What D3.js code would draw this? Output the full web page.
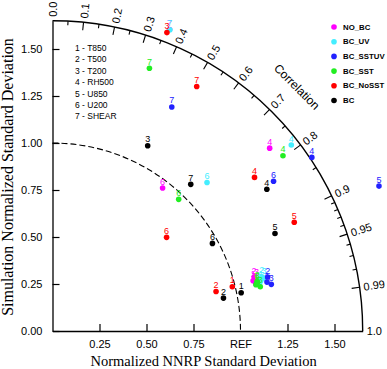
<!DOCTYPE html>
<html>
<head>
<meta charset="utf-8">
<script src="https://cdn.jsdelivr.net/npm/d3@7"></script>
<style>
  body { margin: 0; background: #fff; }
  svg { display: block; }
  .tick text { font-family: "Liberation Sans", Arial, sans-serif; font-size: 11px; fill: #000; }
</style>
</head>
<body>
<div id="chart"></div>
<script>
// variables (left legend) and runs (right legend)
const categories = ["T850", "T500", "T200", "RH500", "U850", "U200", "SHEAR"];
const seriesNames = ["NO_BC", "BC_UV", "BC_SSTUV", "BC_SST", "BC_NoSST", "BC"];
const seriesColors = ["#ff00ff", "#44eeff", "#2222ff", "#22ee22", "#ff0000", "#000000"];

// normalized std dev and correlation, one value per category
const stdNO_BC    = [1.10, 1.11, 1.12, 1.51, 1.11, 0.96, 1.72];
const corNO_BC    = [0.970, 0.966, 0.969, 0.765, 0.974, 0.610, 0.362];
const stdBC_UV    = [1.14, 1.15, 1.16, 1.61, 1.13, 1.14, 1.72];
const corBC_UV    = [0.972, 0.968, 0.970, 0.789, 0.975, 0.721, 0.363];
const stdBC_SSTUV = [1.17, 1.18, 1.19, 1.66, 1.90, 1.42, 1.35];
const corBC_SSTUV = [0.975, 0.970, 0.978, 0.831, 0.914, 0.828, 0.470];
const stdBC_SST   = [1.11, 1.12, 1.13, 1.54, 1.12, 0.97, 1.49];
const corBC_SST   = [0.975, 0.972, 0.978, 0.796, 0.973, 0.692, 0.346];
const stdBC_NoSST = [0.985, 0.895, 1.70, 1.35, 1.41, 0.785, 1.51];
const corBC_NoSST = [0.971, 0.972, 0.358, 0.796, 0.912, 0.773, 0.508];
const stdBC       = [1.024, 0.926, 1.108, 1.367, 1.292, 0.970, 1.072];
const corBC       = [0.980, 0.982, 0.457, 0.834, 0.916, 0.877, 0.686];

// axis ticks
const stdTicks = [0, 0.25, 0.5, 0.75, 1.0, 1.25, 1.5];
const xTicks = [0.25, 0.5, 0.75, 1.0, 1.25, 1.5];
const corrMajor = [0.0, 0.1, 0.2, 0.3, 0.4, 0.5, 0.6, 0.7, 0.8, 0.9, 0.95, 0.99, 1.0];
const corrLabels = ["0.0", "0.1", "0.2", "0.3", "0.4", "0.5", "0.6", "0.7", "0.8", "0.9", "0.95", "0.99", "1.0"];
const corrMinor = [0.05, 0.15, 0.25, 0.35, 0.45, 0.55, 0.65, 0.75, 0.85, 0.91, 0.92, 0.93, 0.94, 0.96, 0.97, 0.98];

const stdMax = 1.65;

const series = [
  { name: seriesNames[0], color: seriesColors[0], std: stdNO_BC, cor: corNO_BC },
  { name: seriesNames[1], color: seriesColors[1], std: stdBC_UV, cor: corBC_UV },
  { name: seriesNames[2], color: seriesColors[2], std: stdBC_SSTUV, cor: corBC_SSTUV },
  { name: seriesNames[3], color: seriesColors[3], std: stdBC_SST, cor: corBC_SST },
  { name: seriesNames[4], color: seriesColors[4], std: stdBC_NoSST, cor: corBC_NoSST },
  { name: seriesNames[5], color: seriesColors[5], std: stdBC, cor: corBC }
];

const width = 387, height = 369;
const ox = 52.5, oy = 331;
const R = stdMax * 188;

const r = d3.scaleLinear().domain([0, stdMax]).range([0, R]);
const x = d3.scaleLinear().domain([0, stdMax]).range([0, R]);
const y = d3.scaleLinear().domain([0, stdMax]).range([0, -R]);

const svg = d3.select("#chart").append("svg")
  .attr("width", width)
  .attr("height", height);

const g = svg.append("g").attr("transform", "translate(" + ox + "," + oy + ")");

const polar = (s, c) => {
  const a = Math.acos(c);
  return [r(s) * Math.cos(a), -r(s) * Math.sin(a)];
};

// x axis
const xAxis = d3.axisBottom(x)
  .tickValues(xTicks)
  .tickSizeInner(-7)
  .tickSizeOuter(0)
  .tickPadding(9)
  .tickFormat(d => d === 1 ? "REF" : d3.format(".2f")(d));

const xg = g.append("g").attr("class", "x axis").call(xAxis);
xg.selectAll(".tick").filter(d => d === 1).select("line").remove();

// y axis
const yAxis = d3.axisLeft(y)
  .tickValues(stdTicks)
  .tickSizeInner(-7)
  .tickSizeOuter(0)
  .tickPadding(10)
  .tickFormat(d3.format(".2f"));

g.append("g").attr("class", "y axis").call(yAxis);

g.selectAll(".domain").attr("stroke", "#000").attr("stroke-width", 1.3);
g.selectAll(".tick line").attr("stroke", "#000").attr("stroke-width", 1.2);

// outer correlation arc
const outer = d3.path();
outer.moveTo(0, -R);
outer.arc(0, 0, R, -Math.PI / 2, 0);
g.append("path").attr("d", outer.toString())
  .attr("fill", "none").attr("stroke", "#000").attr("stroke-width", 1.4);

// reference arc
const refArc = d3.path();
refArc.moveTo(0, -r(1));
refArc.arc(0, 0, r(1), -Math.PI / 2, 0);
g.append("path").attr("d", refArc.toString())
  .attr("fill", "none").attr("stroke", "#000").attr("stroke-width", 1.1)
  .attr("stroke-dasharray", "6,3");

// correlation ticks
const corrTick = (c, len) => {
  const a = Math.acos(c);
  return [[(R - len) * Math.cos(a), -(R - len) * Math.sin(a)], [R * Math.cos(a), -R * Math.sin(a)]];
};

g.selectAll(".cmajor")
  .data(corrMajor.filter(c => c > 0 && c < 1))
  .enter().append("line")
  .attr("class", "cmajor")
  .each(function(c) {
    const p = corrTick(c, 8);
    d3.select(this).attr("x1", p[0][0]).attr("y1", p[0][1]).attr("x2", p[1][0]).attr("y2", p[1][1]);
  })
  .attr("stroke", "#000").attr("stroke-width", 1.1);

g.selectAll(".cminor")
  .data(corrMinor)
  .enter().append("line")
  .attr("class", "cminor")
  .each(function(c) {
    const p = corrTick(c, 4);
    d3.select(this).attr("x1", p[0][0]).attr("y1", p[0][1]).attr("x2", p[1][0]).attr("y2", p[1][1]);
  })
  .attr("stroke", "#000").attr("stroke-width", 1.1);

g.selectAll(".clabel")
  .data(corrMajor)
  .enter().append("text")
  .attr("class", "clabel")
  .attr("transform", c => {
    const a = Math.acos(c);
    const rr = R + 4;
    return "translate(" + (rr * Math.cos(a)) + "," + (-rr * Math.sin(a)) + ") rotate(" + (-a * 180 / Math.PI) + ")";
  })
  .attr("dominant-baseline", "central")
  .attr("font-family", "Liberation Sans, Arial, sans-serif")
  .attr("font-size", 11)
  .text((c, i) => corrLabels[i]);

// "Correlation" title along the arc
const ca = Math.PI / 4, cr = r(1.837);
g.append("text")
  .attr("transform", "translate(" + (cr * Math.cos(ca)) + "," + (-cr * Math.sin(ca)) + ") rotate(45)")
  .attr("text-anchor", "middle")
  .attr("dominant-baseline", "central")
  .attr("font-family", "Liberation Sans, Arial, sans-serif")
  .attr("font-size", 12)
  .text("Correlation");

// data points with their category numbers
series.forEach(s => {
  const pts = s.std.map((v, i) => ({ std: v, cor: s.cor[i], idx: i + 1 }));
  const sg = g.append("g").attr("class", "series");
  sg.selectAll("circle")
    .data(pts)
    .enter().append("circle")
    .attr("cx", d => polar(d.std, d.cor)[0])
    .attr("cy", d => polar(d.std, d.cor)[1])
    .attr("r", 2.8)
    .attr("fill", s.color);
  sg.selectAll("text")
    .data(pts)
    .enter().append("text")
    .attr("x", d => polar(d.std, d.cor)[0])
    .attr("y", d => polar(d.std, d.cor)[1] - 3.5)
    .attr("text-anchor", "middle")
    .attr("font-family", "Liberation Sans, Arial, sans-serif")
    .attr("font-size", 9)
    .attr("fill", s.color)
    .text(d => d.idx);
});

// axis titles
svg.append("text")
  .attr("x", ox + R / 2 - 4)
  .attr("y", 366)
  .attr("text-anchor", "middle")
  .attr("font-family", "Liberation Serif, Times New Roman, serif")
  .attr("font-size", 14.5)
  .text("Normalized NNRP Standard Deviation");

svg.append("text")
  .attr("transform", "translate(13,177) rotate(-90)")
  .attr("text-anchor", "middle")
  .attr("font-family", "Liberation Serif, Times New Roman, serif")
  .attr("font-size", 16)
  .text("Simulation Normalized Standard Deviation");

// category legend
svg.selectAll(".catlegend")
  .data(categories)
  .enter().append("text")
  .attr("class", "catlegend")
  .attr("x", 75)
  .attr("y", (d, i) => 48 + i * 11.4)
  .attr("dominant-baseline", "central")
  .attr("font-family", "Liberation Sans, Arial, sans-serif")
  .attr("font-size", 8.5)
  .text((d, i) => (i + 1) + " - " + d);

// run legend
const leg = svg.selectAll(".runlegend")
  .data(series)
  .enter().append("g")
  .attr("class", "runlegend")
  .attr("transform", (d, i) => "translate(334," + (27 + i * 14.7) + ")");

leg.append("circle").attr("r", 2.8).attr("fill", d => d.color);
leg.append("text")
  .attr("x", 9)
  .attr("dominant-baseline", "central")
  .attr("font-family", "Liberation Sans, Arial, sans-serif")
  .attr("font-size", 7.8)
  .attr("font-weight", "bold")
  .text(d => d.name);
</script>
</body>
</html>
